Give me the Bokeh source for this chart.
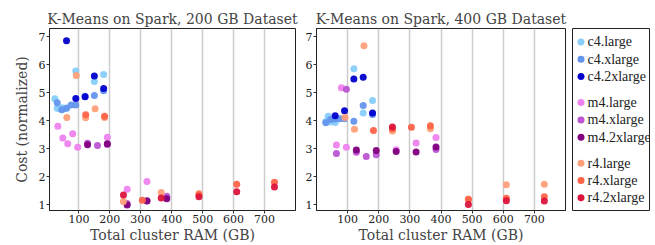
from bokeh.plotting import figure
from bokeh.layouts import row
from bokeh.models import Range1d, FixedTicker
from bokeh.core.properties import value
from bokeh.embed import file_html
from bokeh.resources import INLINE

types = ["c4.large", "c4.xlarge", "c4.2xlarge",
         "m4.large", "m4.xlarge", "m4.2xlarge",
         "r4.large", "r4.xlarge", "r4.2xlarge"]
colors = ["#87CEFA", "#6495ED", "#0000CD",
          "#EE82EE", "#BA55D3", "#800080",
          "#FFA07A", "#FF6347", "#DC143C"]
x_ticks = [100, 200, 300, 400, 500, 600, 700]
y_ticks = [1, 2, 3, 4, 5, 6, 7]

# ---- 200 GB dataset ----
x200_c4l = [22.5, 30, 37.5, 45, 52.5, 60, 90, 150, 180]
y200_c4l = [4.79, 4.45, 4.43, 4.47, 4.44, 4.46, 5.78, 5.41, 5.66]
x200_c4x = [30, 45, 60, 75, 90, 120, 150, 180]
y200_c4x = [4.65, 4.40, 4.45, 4.57, 4.57, 4.88, 4.91, 5.08]
x200_c42 = [60, 90, 120, 150, 180]
y200_c42 = [6.86, 4.80, 4.86, 5.60, 5.16]
x200_m4l = [32, 48, 64, 80, 96, 192, 256, 320]
y200_m4l = [3.81, 3.39, 3.18, 3.54, 3.06, 3.42, 1.56, 1.84]
x200_m4x = [128, 160, 192, 256, 320, 384]
y200_m4x = [3.20, 3.12, 3.16, 1.05, 1.15, 1.31]
x200_m42 = [128, 192, 256, 320, 384]
y200_m42 = [3.15, 3.18, 1.00, 1.14, 1.22]
x200_r4l = [61, 91.5, 122, 152.5, 183, 244, 366, 488]
y200_r4l = [4.12, 5.62, 4.11, 4.43, 4.12, 1.12, 1.44, 1.41]
x200_r4x = [122, 183, 305, 488, 610, 732]
y200_r4x = [4.22, 4.17, 1.17, 1.36, 1.74, 1.81]
x200_r42 = [244, 366, 488, 610, 732]
y200_r42 = [1.35, 1.25, 1.29, 1.47, 1.64]

# ---- 400 GB dataset ----
x400_c4l = [30, 37.5, 45, 60, 120, 150, 180]
y400_c4l = [3.97, 4.17, 3.96, 3.94, 5.86, 4.28, 4.73]
x400_c4x = [30, 45, 60, 75, 90, 120, 150, 180]
y400_c4x = [3.93, 4.05, 4.07, 4.08, 4.08, 3.99, 4.55, 4.23]
x400_c42 = [60, 90, 120, 150, 180]
y400_c42 = [4.18, 4.36, 5.50, 5.56, 4.28]
x400_m4l = [64, 80, 96, 128, 256, 320, 384]
y400_m4l = [3.14, 5.18, 3.06, 2.87, 2.97, 3.21, 3.41]
x400_m4x = [64, 96, 128, 160, 192, 384]
y400_m4x = [2.84, 5.13, 2.90, 2.73, 2.79, 2.98]
x400_m42 = [128, 192, 256, 320, 384]
y400_m42 = [2.96, 2.94, 2.91, 2.89, 3.07]
x400_r4l = [91.5, 122, 152.5, 244, 366, 488, 610, 732]
y400_r4l = [4.12, 3.70, 6.68, 3.64, 3.72, 1.21, 1.72, 1.74]
x400_r4x = [183, 244, 305, 366, 488, 610, 732]
y400_r4x = [3.66, 3.72, 3.77, 3.83, 1.19, 1.24, 1.29]
x400_r42 = [244, 488, 610, 732]
y400_r42 = [3.78, 1.01, 1.15, 1.14]

series200 = [(x200_c4l, y200_c4l), (x200_c4x, y200_c4x), (x200_c42, y200_c42),
             (x200_m4l, y200_m4l), (x200_m4x, y200_m4x), (x200_m42, y200_m42),
             (x200_r4l, y200_r4l), (x200_r4x, y200_r4x), (x200_r42, y200_r42)]
series400 = [(x400_c4l, y400_c4l), (x400_c4x, y400_c4x), (x400_c42, y400_c42),
             (x400_m4l, y400_m4l), (x400_m4x, y400_m4x), (x400_m42, y400_m42),
             (x400_r4l, y400_r4l), (x400_r4x, y400_r4x), (x400_r42, y400_r42)]

FONT = "'DejaVu Serif', serif"
LFONT = "'Liberation Serif', serif"
H = 245


def panel(title, series, width, bl, br, xr, show_ylabel):
    p = figure(width=width, height=H, output_backend="svg", toolbar_location=None,
               x_range=Range1d(*xr), y_range=Range1d(0.8, 7.3),
               min_border_left=bl, min_border_right=br,
               min_border_top=28, min_border_bottom=33)
    p.title.text = title
    p.title.text_font = FONT
    p.title.text_font_size = "14px"
    p.title.text_font_style = "normal"
    p.title.align = "center"
    p.title.vertical_align = "middle"
    p.title.standoff = 2
    p.title.offset = 0
    for (xs, ys), c in zip(series, colors):
        p.scatter(xs, ys, size=7, fill_color=c, line_color=None, fill_alpha=0.95)
    p.xaxis.ticker = FixedTicker(ticks=x_ticks)
    p.yaxis.ticker = FixedTicker(ticks=y_ticks)
    p.xaxis.axis_label = "Total cluster RAM (GB)"
    if show_ylabel:
        p.yaxis.axis_label = "Cost (normalized)"
    for ax in (p.xaxis[0], p.yaxis[0]):
        ax.axis_label_text_font = FONT
        ax.axis_label_text_font_size = "14px"
        ax.axis_label_text_font_style = "normal"
        ax.axis_label_standoff = 1
        ax.major_label_text_font = FONT
        ax.major_label_text_font_size = "11px"
        ax.major_label_text_color = "#222222"
        ax.major_label_standoff = 1
        ax.minor_tick_line_color = None
        ax.major_tick_in = 0
        ax.major_tick_out = 3
        ax.major_tick_line_color = "#333333"
        ax.axis_line_color = "#222222"
    p.yaxis[0].axis_label_standoff = 6
    p.ygrid.grid_line_color = None
    p.xgrid.grid_line_color = "#cccccc"
    p.xgrid.grid_line_width = 1.5
    p.outline_line_color = "#222222"
    p.outline_line_alpha = 1
    p.outline_line_width = 1
    return p


p1 = panel("K-Means on Spark, 200 GB Dataset", series200, 298, 49, 3, (5, 800), True)
p2 = panel("K-Means on Spark, 400 GB Dataset", series400, 269, 18, 2, (0, 800), False)

# legend panel
leg = figure(width=85, height=H, output_backend="svg", toolbar_location=None,
             x_range=Range1d(0, 77), y_range=Range1d(185, 0),
             min_border_left=5, min_border_right=3, min_border_top=28, min_border_bottom=32)
leg.xaxis.visible = False
leg.yaxis.visible = False
leg.grid.visible = False
leg.outline_line_color = "#222222"
leg.outline_line_alpha = 1
ly = [13.7 + 17.6 * i + 8.8 * (i // 3) for i in range(len(types))]
leg.scatter([8.5] * len(types), ly, size=7, fill_color=colors, line_color=None)
leg.text([15] * len(types), ly, text=types, text_font=value(LFONT),
         text_font_size="14px", text_baseline="middle", text_color="#222222")

layout = row(p1, p2, leg)
open("out.html", "w").write(file_html(layout, INLINE))
